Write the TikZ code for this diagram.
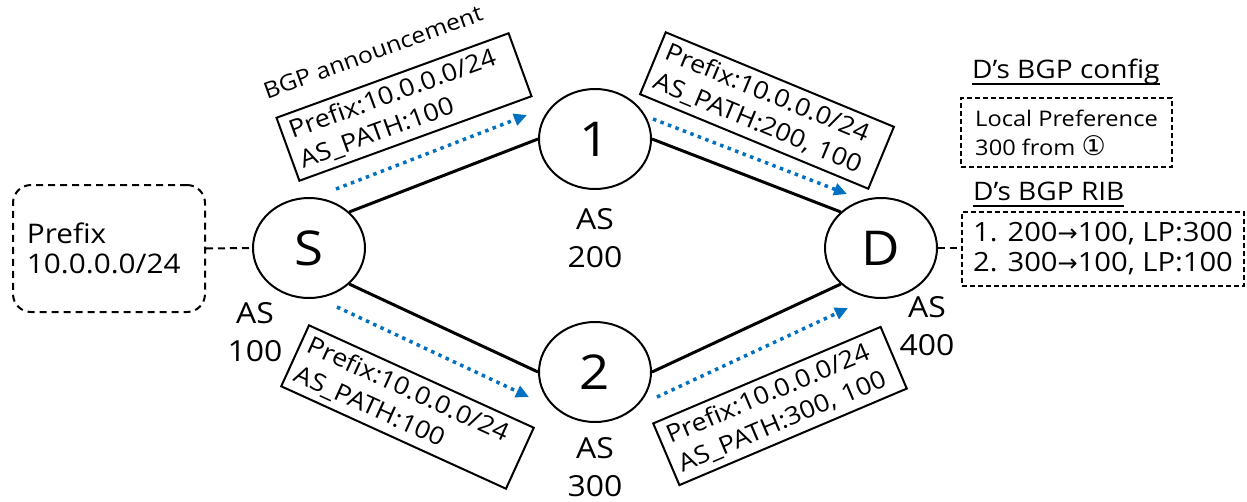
\documentclass[tikz,border=0pt]{standalone}
\usepackage{fontspec}
\setmainfont[FakeStretch=1.1]{Open Sans}
\newfontfamily\symfont{DejaVu Sans}
\usetikzlibrary{arrows.meta,shapes.geometric}
\definecolor{flowblue}{RGB}{0,112,192}
\setlength\parindent{0pt}
% underline drawn at a fixed distance below the baseline
\newsavebox\ulbx
\newcommand\ulined[1]{\sbox\ulbx{#1}\rlap{\rule[-7pt]{\wd\ulbx}{2pt}}\usebox\ulbx}
\newcommand\toarrow{{\symfont\fontsize{24}{30}\selectfont →}}
\newcommand\circledone{{\symfont\fontsize{27}{29}\selectfont ①}}

\begin{document}
\begin{tikzpicture}[x=1pt,y=-1pt,
  asnode/.style={ellipse,draw,line width=2pt,minimum width=112pt,minimum height=100pt,
    inner sep=0pt,font=\fontsize{48}{50}\selectfont},
  aslabel/.style={align=center,inner sep=0pt,font=\fontsize{29}{38}\selectfont},
  link/.style={line width=3pt},
  tie/.style={line width=2pt,dash pattern=on 7pt off 5pt},
  msg/.style={draw,line width=2pt,minimum width=247pt,minimum height=67pt,
    inner xsep=8pt,text width=231pt,align=left,font=\fontsize{24.5}{31}\selectfont},
  flow/.style={flowblue,line width=3.5pt,dash pattern=on 3.5pt off 4.5pt,
    -{Triangle[length=13pt,width=12pt]}},
  title/.style={anchor=base west,inner sep=0pt,font=\fontsize{25.5}{30}\selectfont},
  dbox/.style={draw,line width=1.6pt,dash pattern=on 5pt off 3pt,align=left,inner sep=0pt}
]
\fill[white] (0,0) rectangle (1247,501);
\useasboundingbox (0,0) rectangle (1247,501);

% autonomous systems
\node[asnode] (S)  at (309,248) {S};
\node[asnode] (n1) at (595,139) {1};
\node[asnode] (n2) at (595,372) {2};
\node[asnode] (D)  at (881,248) {D};

\node[aslabel] (asS) at (255,332) {AS\\100};
\node[aslabel] (as1) at (595,238) {AS\\200};
\node[aslabel] (as2) at (595,467) {AS\\300};
\node[aslabel] (asD) at (927,326) {AS\\400};

% links between the systems
\draw[link] (S.north east) -- (n1.west);
\draw[link] (S.south east) -- (n2.west);
\draw[link] (n1.east) -- (D.north west);
\draw[link] (n2.east) -- (D.south west);

% originated prefix
\node[draw,rounded corners=18pt,line width=2pt,dash pattern=on 7pt off 5pt,
  minimum width=192pt,minimum height=127pt,inner xsep=14pt,text width=164pt,
  align=left,font=\fontsize{27}{30}\selectfont] (pfx) at (109,248.5)
  {Prefix\\10.0.0.0/24};
\draw[tie] (pfx.east) -- (S.west);

% announcements travelling along the links
\node[rotate=20,inner sep=0pt,font=\fontsize{22.5}{26}\selectfont] (ann) at (373,52) {BGP announcement};
\node[msg,rotate=20]    (m1) at (404,107)   {Prefix:10.0.0.0/24\\AS\_PATH:100};
\node[msg,rotate=-22.5] (m2) at (767,110.5) {Prefix:10.0.0.0/24\\AS\_PATH:200, 100};
\node[msg,rotate=-24.5] (m3) at (407.5,407) {Prefix:10.0.0.0/24\\AS\_PATH:100};
\node[msg,rotate=23]    (m4) at (780,406)   {Prefix:10.0.0.0/24\\AS\_PATH:300, 100};

\coordinate (f1a) at (336,189); \coordinate (f1b) at (527,115);
\coordinate (f2a) at (653,119); \coordinate (f2b) at (847,194);
\coordinate (f3a) at (337,307); \coordinate (f3b) at (529,397);
\coordinate (f4a) at (657,397); \coordinate (f4b) at (848,308);
\draw[flow] (f1a) -- (f1b);
\draw[flow] (f2a) -- (f2b);
\draw[flow] (f3a) -- (f3b);
\draw[flow] (f4a) -- (f4b);

% D's configuration and routing table
\node[title] (cfgt) at (972,78) {\ulined{D’s BGP config}};
\node[dbox,minimum width=211pt,minimum height=69pt,
  font=\fontsize{21.5}{29}\selectfont] (cfg) at (1066.5,132.5)
  {Local Preference\\300 from \circledone};

\node[title] (ribt) at (973,200) {\ulined{D’s BGP RIB}};
\node[dbox,minimum width=282pt,minimum height=74pt,
  font=\fontsize{26.5}{30}\selectfont] (rib) at (1103,249)
  {1. 200\toarrow100, LP:300\\2. 300\toarrow100, LP:100};
\draw[tie] (D.east) -- (D.east -| rib.west);
\end{tikzpicture}
\end{document}
